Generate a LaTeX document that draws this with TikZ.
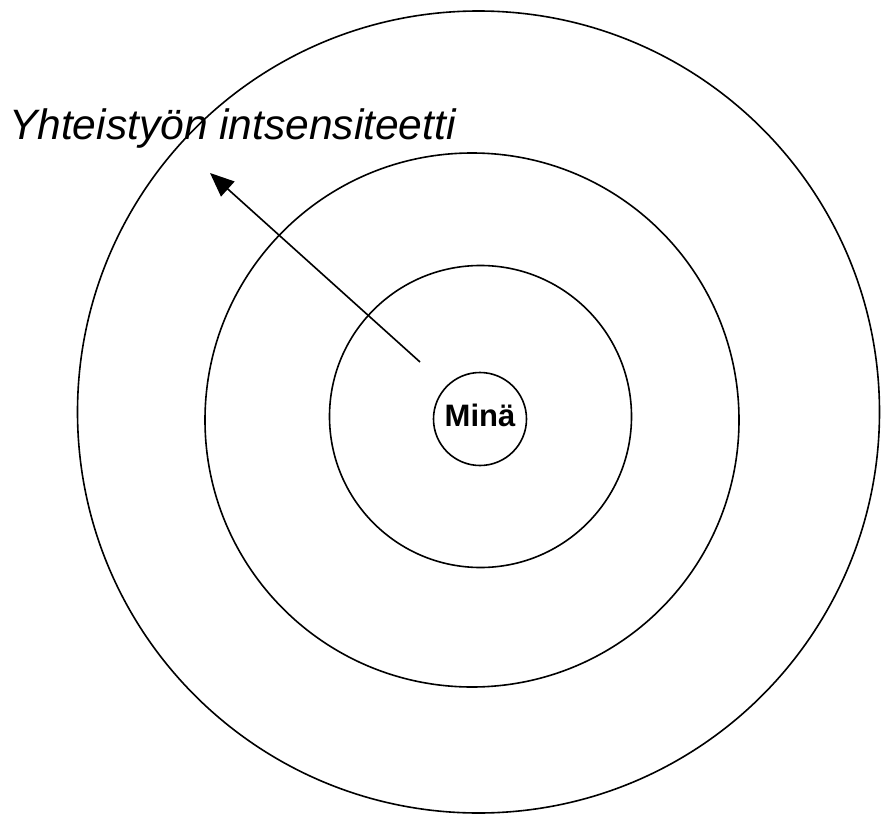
\documentclass[tikz,border=0pt]{standalone}
\usepackage{fontspec}
\setmainfont{Liberation Sans}
\usetikzlibrary{arrows.meta}
\tikzset{
  ring/.style={draw=black, line width=1.6pt},
  conn/.style={draw=black, line width=1.6pt, -{Triangle[length=24pt,width=20pt]}},
}
\begin{document}
\begin{tikzpicture}[x=1pt,y=-1pt]
\useasboundingbox (0,0) rectangle (881,816);
\draw[ring] (478.5,412) circle[radius=401];
\draw[ring] (472,420) circle[radius=267];
\draw[ring] (480.5,416.5) circle[radius=151];
\node[ring, circle, minimum size=93pt, inner sep=0pt, text height=14pt, text depth=0pt,
      font=\fontsize{31pt}{31pt}\selectfont\bfseries] (mina) at (480,419) {Minä};
\node[anchor=base west, inner sep=0pt, font=\fontsize{42.5pt}{42.5pt}\selectfont\itshape] (label) at (9,139) {Yhteistyön intsensiteetti};
\coordinate (tail) at (420,362);
\coordinate (tip) at (210,173);
\draw[conn] (tail) -- (tip);
\end{tikzpicture}
\end{document}
